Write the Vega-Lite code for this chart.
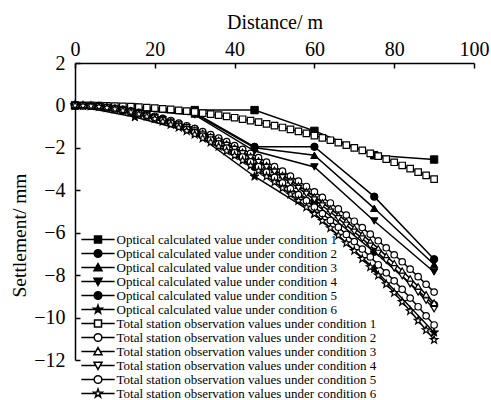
{
  "$schema": "https://vega.github.io/schema/vega-lite/v6.json",
  "width": 399,
  "height": 297,
  "autosize": {"type": "none"},
  "padding": {"left": 75, "top": 63, "right": 17, "bottom": 40},
  "background": "white",
  "config": {"view": {"stroke": null}, "font": "Liberation Serif"},
  "datasets": {
    "opt": [
      {"s":"O1","d":0,"v":0},{"s":"O1","d":15,"v":-0.1},{"s":"O1","d":30,"v":-0.22},{"s":"O1","d":45,"v":-0.22},{"s":"O1","d":60,"v":-1.2},{"s":"O1","d":75,"v":-2.35},{"s":"O1","d":90,"v":-2.55},
      {"s":"O2","d":0,"v":0},{"s":"O2","d":15,"v":-0.15},{"s":"O2","d":30,"v":-0.35},{"s":"O2","d":45,"v":-1.95},{"s":"O2","d":60,"v":-1.95},{"s":"O2","d":75,"v":-4.3},{"s":"O2","d":90,"v":-7.25},
      {"s":"O3","d":0,"v":0},{"s":"O3","d":15,"v":-0.2},{"s":"O3","d":30,"v":-0.4},{"s":"O3","d":45,"v":-2.0},{"s":"O3","d":60,"v":-2.35},{"s":"O3","d":75,"v":-4.85},{"s":"O3","d":90,"v":-7.5},
      {"s":"O4","d":0,"v":0},{"s":"O4","d":15,"v":-0.2},{"s":"O4","d":30,"v":-0.45},{"s":"O4","d":45,"v":-2.15},{"s":"O4","d":60,"v":-2.9},{"s":"O4","d":75,"v":-5.45},{"s":"O4","d":90,"v":-7.85},
      {"s":"O5","d":0,"v":0},{"s":"O5","d":15,"v":-0.4},{"s":"O5","d":30,"v":-1.1},{"s":"O5","d":45,"v":-2.9},{"s":"O5","d":60,"v":-4.6},{"s":"O5","d":75,"v":-6.9},{"s":"O5","d":90,"v":-9.4},
      {"s":"O6","d":0,"v":0},{"s":"O6","d":15,"v":-0.55},{"s":"O6","d":30,"v":-1.3},{"s":"O6","d":45,"v":-3.35},{"s":"O6","d":60,"v":-5.1},{"s":"O6","d":75,"v":-7.7},{"s":"O6","d":90,"v":-10.7}
    ],
    "ts": [
      {"s":"T1","d":0,"v":0},{"s":"T1","d":2,"v":0},{"s":"T1","d":4,"v":0},{"s":"T1","d":6,"v":-0.01},{"s":"T1","d":8,"v":-0.02},{"s":"T1","d":10,"v":-0.03},{"s":"T1","d":12,"v":-0.04},{"s":"T1","d":14,"v":-0.06},{"s":"T1","d":16,"v":-0.08},{"s":"T1","d":18,"v":-0.10},{"s":"T1","d":20,"v":-0.13},{"s":"T1","d":22,"v":-0.16},{"s":"T1","d":24,"v":-0.19},{"s":"T1","d":26,"v":-0.23},{"s":"T1","d":28,"v":-0.27},{"s":"T1","d":30,"v":-0.31},{"s":"T1","d":32,"v":-0.36},{"s":"T1","d":34,"v":-0.41},{"s":"T1","d":36,"v":-0.46},{"s":"T1","d":38,"v":-0.52},{"s":"T1","d":40,"v":-0.58},{"s":"T1","d":42,"v":-0.65},{"s":"T1","d":44,"v":-0.72},{"s":"T1","d":46,"v":-0.79},{"s":"T1","d":48,"v":-0.87},{"s":"T1","d":50,"v":-0.95},{"s":"T1","d":52,"v":-1.04},{"s":"T1","d":54,"v":-1.13},{"s":"T1","d":56,"v":-1.22},{"s":"T1","d":58,"v":-1.32},{"s":"T1","d":60,"v":-1.42},{"s":"T1","d":62,"v":-1.53},{"s":"T1","d":64,"v":-1.64},{"s":"T1","d":66,"v":-1.75},{"s":"T1","d":68,"v":-1.87},{"s":"T1","d":70,"v":-2.0},{"s":"T1","d":72,"v":-2.12},{"s":"T1","d":74,"v":-2.26},{"s":"T1","d":76,"v":-2.39},{"s":"T1","d":78,"v":-2.53},{"s":"T1","d":80,"v":-2.68},{"s":"T1","d":82,"v":-2.83},{"s":"T1","d":84,"v":-2.98},{"s":"T1","d":86,"v":-3.14},{"s":"T1","d":88,"v":-3.3},{"s":"T1","d":90,"v":-3.47},
      {"s":"T2","d":0,"v":0},{"s":"T2","d":2,"v":-0.01},{"s":"T2","d":4,"v":-0.02},{"s":"T2","d":6,"v":-0.05},{"s":"T2","d":8,"v":-0.09},{"s":"T2","d":10,"v":-0.14},{"s":"T2","d":12,"v":-0.19},{"s":"T2","d":14,"v":-0.26},{"s":"T2","d":16,"v":-0.33},{"s":"T2","d":18,"v":-0.41},{"s":"T2","d":20,"v":-0.51},{"s":"T2","d":22,"v":-0.61},{"s":"T2","d":24,"v":-0.71},{"s":"T2","d":26,"v":-0.83},{"s":"T2","d":28,"v":-0.96},{"s":"T2","d":30,"v":-1.09},{"s":"T2","d":32,"v":-1.23},{"s":"T2","d":34,"v":-1.38},{"s":"T2","d":36,"v":-1.54},{"s":"T2","d":38,"v":-1.71},{"s":"T2","d":40,"v":-1.89},{"s":"T2","d":42,"v":-2.07},{"s":"T2","d":44,"v":-2.26},{"s":"T2","d":46,"v":-2.46},{"s":"T2","d":48,"v":-2.67},{"s":"T2","d":50,"v":-2.88},{"s":"T2","d":52,"v":-3.1},{"s":"T2","d":54,"v":-3.33},{"s":"T2","d":56,"v":-3.57},{"s":"T2","d":58,"v":-3.82},{"s":"T2","d":60,"v":-4.07},{"s":"T2","d":62,"v":-4.33},{"s":"T2","d":64,"v":-4.6},{"s":"T2","d":66,"v":-4.88},{"s":"T2","d":68,"v":-5.17},{"s":"T2","d":70,"v":-5.46},{"s":"T2","d":72,"v":-5.76},{"s":"T2","d":74,"v":-6.07},{"s":"T2","d":76,"v":-6.38},{"s":"T2","d":78,"v":-6.71},{"s":"T2","d":80,"v":-7.04},{"s":"T2","d":82,"v":-7.37},{"s":"T2","d":84,"v":-7.72},{"s":"T2","d":86,"v":-8.07},{"s":"T2","d":88,"v":-8.43},{"s":"T2","d":90,"v":-8.8},
      {"s":"T3","d":0,"v":0},{"s":"T3","d":2,"v":-0.01},{"s":"T3","d":4,"v":-0.03},{"s":"T3","d":6,"v":-0.05},{"s":"T3","d":8,"v":-0.09},{"s":"T3","d":10,"v":-0.14},{"s":"T3","d":12,"v":-0.2},{"s":"T3","d":14,"v":-0.27},{"s":"T3","d":16,"v":-0.35},{"s":"T3","d":18,"v":-0.44},{"s":"T3","d":20,"v":-0.53},{"s":"T3","d":22,"v":-0.64},{"s":"T3","d":24,"v":-0.75},{"s":"T3","d":26,"v":-0.88},{"s":"T3","d":28,"v":-1.01},{"s":"T3","d":30,"v":-1.15},{"s":"T3","d":32,"v":-1.3},{"s":"T3","d":34,"v":-1.46},{"s":"T3","d":36,"v":-1.63},{"s":"T3","d":38,"v":-1.81},{"s":"T3","d":40,"v":-1.99},{"s":"T3","d":42,"v":-2.19},{"s":"T3","d":44,"v":-2.39},{"s":"T3","d":46,"v":-2.6},{"s":"T3","d":48,"v":-2.82},{"s":"T3","d":50,"v":-3.04},{"s":"T3","d":52,"v":-3.28},{"s":"T3","d":54,"v":-3.52},{"s":"T3","d":56,"v":-3.78},{"s":"T3","d":58,"v":-4.04},{"s":"T3","d":60,"v":-4.3},{"s":"T3","d":62,"v":-4.58},{"s":"T3","d":64,"v":-4.87},{"s":"T3","d":66,"v":-5.16},{"s":"T3","d":68,"v":-5.46},{"s":"T3","d":70,"v":-5.77},{"s":"T3","d":72,"v":-6.09},{"s":"T3","d":74,"v":-6.41},{"s":"T3","d":76,"v":-6.74},{"s":"T3","d":78,"v":-7.09},{"s":"T3","d":80,"v":-7.44},{"s":"T3","d":82,"v":-7.79},{"s":"T3","d":84,"v":-8.16},{"s":"T3","d":86,"v":-8.53},{"s":"T3","d":88,"v":-8.91},{"s":"T3","d":90,"v":-9.3},
      {"s":"T4","d":0,"v":0},{"s":"T4","d":2,"v":-0.01},{"s":"T4","d":4,"v":-0.03},{"s":"T4","d":6,"v":-0.06},{"s":"T4","d":8,"v":-0.1},{"s":"T4","d":10,"v":-0.15},{"s":"T4","d":12,"v":-0.21},{"s":"T4","d":14,"v":-0.28},{"s":"T4","d":16,"v":-0.36},{"s":"T4","d":18,"v":-0.45},{"s":"T4","d":20,"v":-0.55},{"s":"T4","d":22,"v":-0.66},{"s":"T4","d":24,"v":-0.78},{"s":"T4","d":26,"v":-0.91},{"s":"T4","d":28,"v":-1.04},{"s":"T4","d":30,"v":-1.19},{"s":"T4","d":32,"v":-1.35},{"s":"T4","d":34,"v":-1.51},{"s":"T4","d":36,"v":-1.68},{"s":"T4","d":38,"v":-1.87},{"s":"T4","d":40,"v":-2.06},{"s":"T4","d":42,"v":-2.26},{"s":"T4","d":44,"v":-2.46},{"s":"T4","d":46,"v":-2.68},{"s":"T4","d":48,"v":-2.91},{"s":"T4","d":50,"v":-3.14},{"s":"T4","d":52,"v":-3.39},{"s":"T4","d":54,"v":-3.64},{"s":"T4","d":56,"v":-3.9},{"s":"T4","d":58,"v":-4.17},{"s":"T4","d":60,"v":-4.44},{"s":"T4","d":62,"v":-4.73},{"s":"T4","d":64,"v":-5.02},{"s":"T4","d":66,"v":-5.33},{"s":"T4","d":68,"v":-5.64},{"s":"T4","d":70,"v":-5.96},{"s":"T4","d":72,"v":-6.28},{"s":"T4","d":74,"v":-6.62},{"s":"T4","d":76,"v":-6.96},{"s":"T4","d":78,"v":-7.31},{"s":"T4","d":80,"v":-7.68},{"s":"T4","d":82,"v":-8.04},{"s":"T4","d":84,"v":-8.42},{"s":"T4","d":86,"v":-8.81},{"s":"T4","d":88,"v":-9.2},{"s":"T4","d":90,"v":-9.6},
      {"s":"T5","d":0,"v":0},{"s":"T5","d":2,"v":-0.01},{"s":"T5","d":4,"v":-0.03},{"s":"T5","d":6,"v":-0.06},{"s":"T5","d":8,"v":-0.1},{"s":"T5","d":10,"v":-0.16},{"s":"T5","d":12,"v":-0.23},{"s":"T5","d":14,"v":-0.3},{"s":"T5","d":16,"v":-0.39},{"s":"T5","d":18,"v":-0.49},{"s":"T5","d":20,"v":-0.59},{"s":"T5","d":22,"v":-0.71},{"s":"T5","d":24,"v":-0.84},{"s":"T5","d":26,"v":-0.98},{"s":"T5","d":28,"v":-1.13},{"s":"T5","d":30,"v":-1.28},{"s":"T5","d":32,"v":-1.45},{"s":"T5","d":34,"v":-1.63},{"s":"T5","d":36,"v":-1.81},{"s":"T5","d":38,"v":-2.01},{"s":"T5","d":40,"v":-2.22},{"s":"T5","d":42,"v":-2.43},{"s":"T5","d":44,"v":-2.66},{"s":"T5","d":46,"v":-2.89},{"s":"T5","d":48,"v":-3.14},{"s":"T5","d":50,"v":-3.39},{"s":"T5","d":52,"v":-3.65},{"s":"T5","d":54,"v":-3.92},{"s":"T5","d":56,"v":-4.2},{"s":"T5","d":58,"v":-4.49},{"s":"T5","d":60,"v":-4.79},{"s":"T5","d":62,"v":-5.1},{"s":"T5","d":64,"v":-5.42},{"s":"T5","d":66,"v":-5.74},{"s":"T5","d":68,"v":-6.08},{"s":"T5","d":70,"v":-6.42},{"s":"T5","d":72,"v":-6.77},{"s":"T5","d":74,"v":-7.14},{"s":"T5","d":76,"v":-7.51},{"s":"T5","d":78,"v":-7.89},{"s":"T5","d":80,"v":-8.27},{"s":"T5","d":82,"v":-8.67},{"s":"T5","d":84,"v":-9.08},{"s":"T5","d":86,"v":-9.49},{"s":"T5","d":88,"v":-9.92},{"s":"T5","d":90,"v":-10.35},
      {"s":"T6","d":0,"v":0},{"s":"T6","d":2,"v":-0.01},{"s":"T6","d":4,"v":-0.03},{"s":"T6","d":6,"v":-0.06},{"s":"T6","d":8,"v":-0.11},{"s":"T6","d":10,"v":-0.17},{"s":"T6","d":12,"v":-0.24},{"s":"T6","d":14,"v":-0.32},{"s":"T6","d":16,"v":-0.41},{"s":"T6","d":18,"v":-0.52},{"s":"T6","d":20,"v":-0.63},{"s":"T6","d":22,"v":-0.76},{"s":"T6","d":24,"v":-0.9},{"s":"T6","d":26,"v":-1.04},{"s":"T6","d":28,"v":-1.2},{"s":"T6","d":30,"v":-1.37},{"s":"T6","d":32,"v":-1.55},{"s":"T6","d":34,"v":-1.74},{"s":"T6","d":36,"v":-1.94},{"s":"T6","d":38,"v":-2.15},{"s":"T6","d":40,"v":-2.37},{"s":"T6","d":42,"v":-2.6},{"s":"T6","d":44,"v":-2.84},{"s":"T6","d":46,"v":-3.09},{"s":"T6","d":48,"v":-3.35},{"s":"T6","d":50,"v":-3.62},{"s":"T6","d":52,"v":-3.9},{"s":"T6","d":54,"v":-4.19},{"s":"T6","d":56,"v":-4.49},{"s":"T6","d":58,"v":-4.8},{"s":"T6","d":60,"v":-5.11},{"s":"T6","d":62,"v":-5.44},{"s":"T6","d":64,"v":-5.78},{"s":"T6","d":66,"v":-6.13},{"s":"T6","d":68,"v":-6.49},{"s":"T6","d":70,"v":-6.85},{"s":"T6","d":72,"v":-7.23},{"s":"T6","d":74,"v":-7.62},{"s":"T6","d":76,"v":-8.01},{"s":"T6","d":78,"v":-8.42},{"s":"T6","d":80,"v":-8.83},{"s":"T6","d":82,"v":-9.26},{"s":"T6","d":84,"v":-9.69},{"s":"T6","d":86,"v":-10.14},{"s":"T6","d":88,"v":-10.59},{"s":"T6","d":90,"v":-11.05}
    ]
  },
  "encoding": {
    "x": {
      "field": "d", "type": "quantitative",
      "scale": {"domain": [0, 100], "nice": false},
      "axis": {
        "orient": "top", "title": "Distance/ m", "values": [0, 20, 40, 60, 80, 100],
        "grid": false, "tickSize": -5, "labelPadding": 8.5,
        "labelFont": "Liberation Serif", "labelFontSize": 20, "labelColor": "black",
        "titleFont": "Liberation Serif", "titleFontSize": 20, "titleFontWeight": "normal", "titleColor": "black",
        "titleBaseline": "alphabetic", "titleY": -35,
        "domainColor": "black", "tickColor": "black", "domainWidth": 1.5, "tickWidth": 1.5, "labelFlush": false
      }
    },
    "y": {
      "field": "v", "type": "quantitative",
      "scale": {"domain": [-12, 2], "nice": false},
      "axis": {
        "title": "Settlement/ mm", "values": [-12, -10, -8, -6, -4, -2, 0, 2],
        "grid": false, "tickSize": -5, "labelPadding": 15,
        "labelFont": "Liberation Serif", "labelFontSize": 20, "labelColor": "black",
        "titleFont": "Liberation Serif", "titleFontSize": 19.5, "titleFontWeight": "normal", "titleColor": "black",
        "titleBaseline": "alphabetic", "titleX": -50, "titleY": 172, "titleAngle": 270,
        "domainColor": "black", "tickColor": "black", "domainWidth": 1.5, "tickWidth": 1.5, "labelFlush": false
      }
    }
  },
  "layer": [
    {"data": {"name": "opt"}, "mark": {"type": "line", "color": "black", "strokeWidth": 1.5}, "encoding": {"detail": {"field": "s"}}},
    {"data": {"name": "opt"}, "transform": [{"filter": "datum.s == 'O1'"}], "mark": {"type": "point", "shape": "square", "filled": true, "fill": "black", "stroke": "black", "strokeWidth": 1, "size": 55, "opacity": 1}},
    {"data": {"name": "opt"}, "transform": [{"filter": "datum.s == 'O2'"}], "mark": {"type": "point", "shape": "circle", "filled": true, "fill": "black", "stroke": "black", "strokeWidth": 1, "size": 55, "opacity": 1}},
    {"data": {"name": "opt"}, "transform": [{"filter": "datum.s == 'O3'"}], "mark": {"type": "point", "shape": "triangle-up", "filled": true, "fill": "black", "stroke": "black", "strokeWidth": 1, "size": 55, "opacity": 1}},
    {"data": {"name": "opt"}, "transform": [{"filter": "datum.s == 'O4'"}], "mark": {"type": "point", "shape": "triangle-down", "filled": true, "fill": "black", "stroke": "black", "strokeWidth": 1, "size": 55, "opacity": 1}},
    {"data": {"name": "opt"}, "transform": [{"filter": "datum.s == 'O5'"}], "mark": {"type": "point", "shape": "circle", "filled": true, "fill": "black", "stroke": "black", "strokeWidth": 1, "size": 55, "opacity": 1}},
    {"data": {"name": "opt"}, "transform": [{"filter": "datum.s == 'O6'"}], "mark": {"type": "point", "shape": "M0,-1.25L0.294,-0.405L1.189,-0.386L0.476,0.155L0.735,1.011L0,0.5L-0.735,1.011L-0.476,0.155L-1.189,-0.386L-0.294,-0.405Z", "filled": true, "fill": "black", "stroke": "black", "strokeWidth": 1, "size": 55, "opacity": 1}},
    {"data": {"name": "ts"}, "mark": {"type": "line", "color": "black", "strokeWidth": 1.5}, "encoding": {"detail": {"field": "s"}}},
    {"data": {"name": "ts"}, "transform": [{"filter": "datum.s == 'T1'"}], "mark": {"type": "point", "shape": "square", "filled": true, "fill": "white", "stroke": "black", "strokeWidth": 1.2, "size": 42, "opacity": 1}},
    {"data": {"name": "ts"}, "transform": [{"filter": "datum.s == 'T2'"}], "mark": {"type": "point", "shape": "circle", "filled": true, "fill": "white", "stroke": "black", "strokeWidth": 1.2, "size": 42, "opacity": 1}},
    {"data": {"name": "ts"}, "transform": [{"filter": "datum.s == 'T3'"}], "mark": {"type": "point", "shape": "triangle-up", "filled": true, "fill": "white", "stroke": "black", "strokeWidth": 1.2, "size": 42, "opacity": 1}},
    {"data": {"name": "ts"}, "transform": [{"filter": "datum.s == 'T4'"}], "mark": {"type": "point", "shape": "triangle-down", "filled": true, "fill": "white", "stroke": "black", "strokeWidth": 1.2, "size": 42, "opacity": 1}},
    {"data": {"name": "ts"}, "transform": [{"filter": "datum.s == 'T5'"}], "mark": {"type": "point", "shape": "circle", "filled": true, "fill": "white", "stroke": "black", "strokeWidth": 1.2, "size": 42, "opacity": 1}},
    {"data": {"name": "ts"}, "transform": [{"filter": "datum.s == 'T6'"}], "mark": {"type": "point", "shape": "M0,-1.25L0.294,-0.405L1.189,-0.386L0.476,0.155L0.735,1.011L0,0.5L-0.735,1.011L-0.476,0.155L-1.189,-0.386L-0.294,-0.405Z", "filled": true, "fill": "white", "stroke": "black", "strokeWidth": 1.2, "size": 42, "opacity": 1}},
    {
      "data": {"name": "ts"},
      "transform": [{"filter": "datum.d > 1000"}],
      "mark": {"type": "point", "filled": true, "stroke": "black", "strokeWidth": 1.5, "size": 49, "opacity": 1},
      "encoding": {
        "shape": {
          "field": "s", "type": "nominal",
          "scale": {
            "domain": ["O1","O2","O3","O4","O5","O6","T1","T2","T3","T4","T5","T6"],
            "range": [
              "M-4.75,0H-1M1,0H4.75M-1,-1H1V1H-1Z",
              "M-4.75,0H-1.1M1.1,0H4.75M-1.1,0A1.1,1.1,0,1,0,1.1,0A1.1,1.1,0,1,0,-1.1,0Z",
              "M-4.75,0H-0.6M0.6,0H4.75M0,-1.1L1.15,0.95H-1.15Z",
              "M-4.75,0H-0.6M0.6,0H4.75M0,1.1L1.15,-0.95H-1.15Z",
              "M-4.75,0H-1.1M1.1,0H4.75M-1.1,0A1.1,1.1,0,1,0,1.1,0A1.1,1.1,0,1,0,-1.1,0Z",
              "M-4.75,0H-0.68M0.68,0H4.75M0,-1.25L0.294,-0.405L1.189,-0.386L0.476,0.155L0.735,1.011L0,0.5L-0.735,1.011L-0.476,0.155L-1.189,-0.386L-0.294,-0.405Z",
              "M-4.75,0H-1M1,0H4.75M-1,-1H1V1H-1Z",
              "M-4.75,0H-1.1M1.1,0H4.75M-1.1,0A1.1,1.1,0,1,0,1.1,0A1.1,1.1,0,1,0,-1.1,0Z",
              "M-4.75,0H-0.6M0.6,0H4.75M0,-1.1L1.15,0.95H-1.15Z",
              "M-4.75,0H-0.6M0.6,0H4.75M0,1.1L1.15,-0.95H-1.15Z",
              "M-4.75,0H-1.1M1.1,0H4.75M-1.1,0A1.1,1.1,0,1,0,1.1,0A1.1,1.1,0,1,0,-1.1,0Z",
              "M-4.75,0H-0.68M0.68,0H4.75M0,-1.25L0.294,-0.405L1.189,-0.386L0.476,0.155L0.735,1.011L0,0.5L-0.735,1.011L-0.476,0.155L-1.189,-0.386L-0.294,-0.405Z"
            ]
          },
          "legend": {
            "title": null, "orient": "none", "legendX": 5, "legendY": 170, "padding": 0,
            "symbolSize": 49, "symbolOffset": 11.5, "labelOffset": 12, "rowPadding": -1.5,
            "labelFont": "Liberation Serif", "labelFontSize": 13, "labelColor": "black", "labelLimit": 0,
            "labelExpr": "substring(datum.value,0,1) == 'O' ? 'Optical calculated value under condition ' + substring(datum.value,1,2) : 'Total station observation values under condition ' + substring(datum.value,1,2)"
          }
        },
        "fill": {
          "field": "s", "type": "nominal",
          "scale": {
            "domain": ["O1","O2","O3","O4","O5","O6","T1","T2","T3","T4","T5","T6"],
            "range": ["black","black","black","black","black","black","white","white","white","white","white","white"]
          },
          "legend": null
        }
      }
    }
  ]
}
